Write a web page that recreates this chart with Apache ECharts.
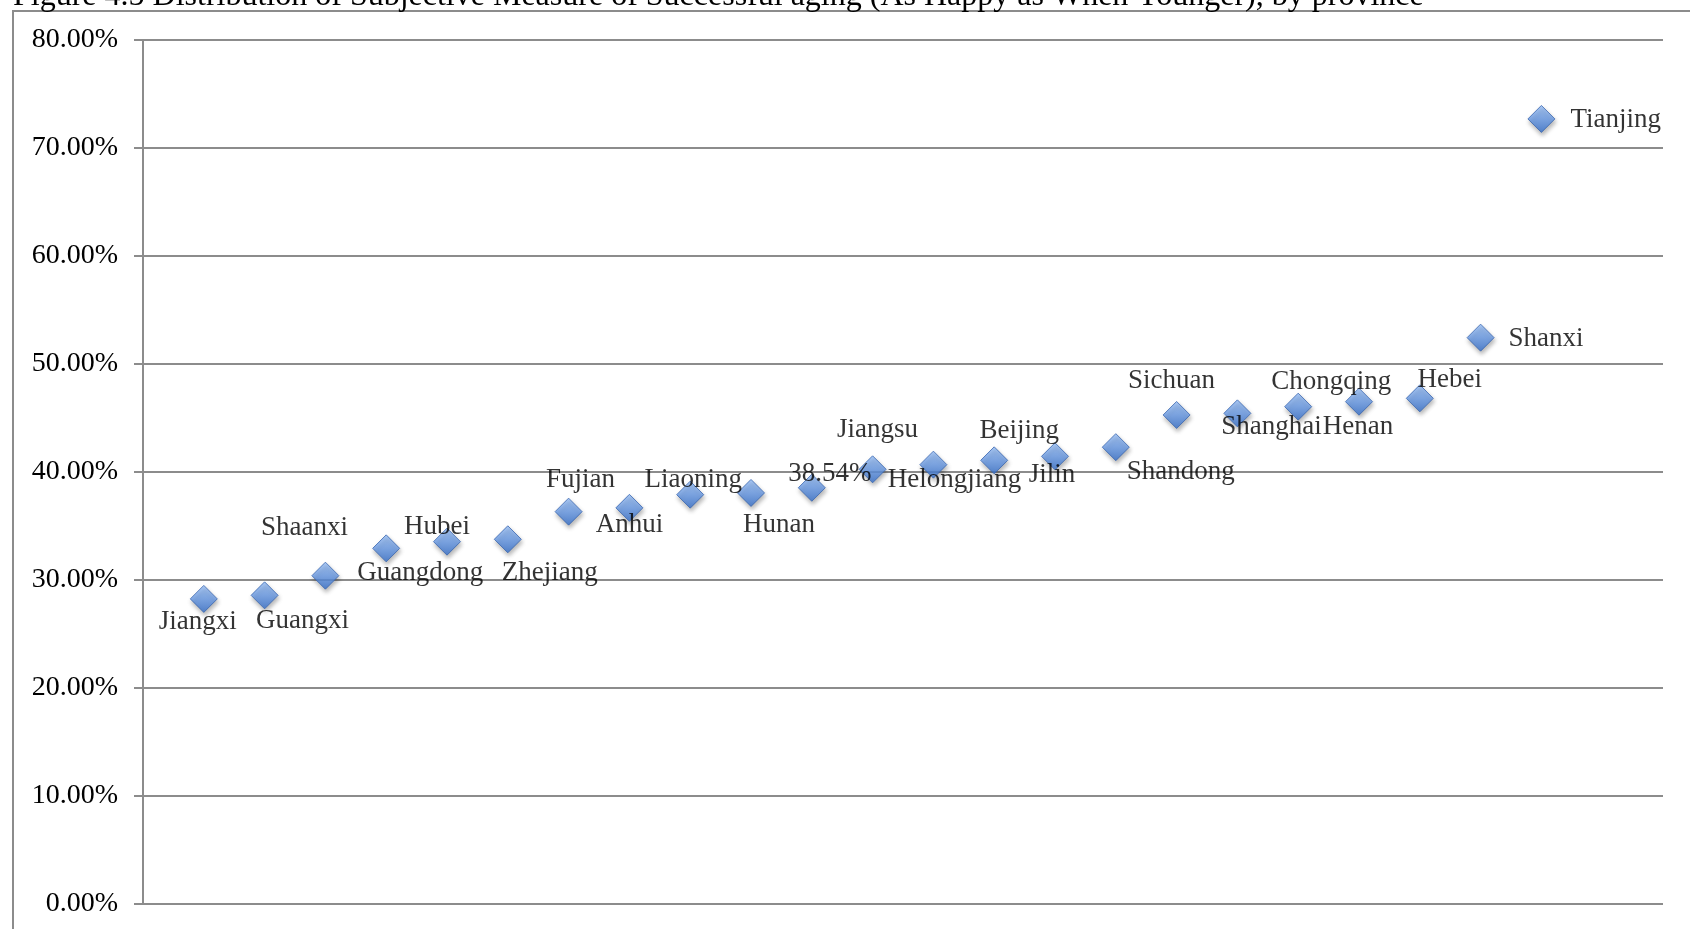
<!DOCTYPE html>
<html>
<head>
<meta charset="utf-8">
<script src="https://cdn.jsdelivr.net/npm/echarts@6/dist/echarts.min.js"></script>
<style>
  html, body { margin: 0; padding: 0; background: #ffffff; }
  #chart { width: 1690px; height: 929px; }
</style>
</head>
<body>
<div id="chart"></div>
<script>
// Share answering "as happy as when younger", sorted from lowest to highest province
const provinces = [
  'Jiangxi', 'Guangxi', 'Shaanxi', 'Guangdong', 'Hubei', 'Zhejiang', 'Fujian', 'Anhui',
  'Liaoning', 'Hunan', null, 'Jiangsu', 'Helongjiang', 'Beijing', 'Jilin', 'Shandong',
  'Sichuan', 'Shanghai', 'Chongqing', 'Henan', 'Hebei', 'Shanxi', 'Tianjing'
];
const shares = [
  28.25, 28.58, 30.40, 32.93, 33.55, 33.77, 36.33, 36.68,
  37.90, 38.06, 38.54, 40.25, 40.68, 41.08, 41.45, 42.30,
  45.28, 45.43, 46.05, 46.51, 46.82, 52.44, 72.69
];
const titleText = 'Figure 4.5 Distribution of Subjective Measure of Successful aging (As Happy as When Younger), by province';

// Where each data label sits relative to its marker: [dx, dy]; 'R' = placed to the right
const labelPlacement = [
  [-6, 23], [38, 26], [-21, -48], [34, 25], [-10, -15], [42, 34], [12, -32], [0, 17],
  [3, -15], [28, 32], [18, -14], [5, -39], [21, 15], [25, -29], [-3, 19], [65, 25],
  [-5, -34], [34, 14], [33, -25], [-1, 25], [30, -18], ['R', 28], ['R', 29]
];

const serif = '"Liberation Serif", "Times New Roman", serif';
const gridGray = '#8c8c8c';

const points = shares.map((v, i) => {
  const p = labelPlacement[i];
  const label = p[0] === 'R'
    ? { position: 'inside', align: 'left', verticalAlign: 'middle', offset: [p[1], 1] }
    : { position: 'inside', align: 'center', verticalAlign: 'middle', offset: [p[0], p[1]] };
  return { value: [i + 1, v], name: provinces[i] || '', label };
});

const chart = echarts.init(document.getElementById('chart'), null, { renderer: 'canvas' });
chart.setOption({
  animation: false,
  backgroundColor: '#ffffff',
  grid: { left: 143, right: 27, top: 40, bottom: 25, containLabel: false },
  graphic: [
    {
      type: 'rect',
      shape: { x: 13, y: 11, width: 1700, height: 940 },
      style: { fill: 'none', stroke: gridGray, lineWidth: 2 },
      z: -1
    },
    {
      type: 'text',
      x: 13, y: -3,
      style: {
        text: titleText,
        font: '32px ' + serif,
        fill: '#000000',
        align: 'left',
        verticalAlign: 'middle'
      }
    }
  ],
  xAxis: {
    type: 'value',
    min: 0,
    max: 25,
    show: false
  },
  yAxis: {
    type: 'value',
    min: 0,
    max: 80,
    interval: 10,
    axisLine: { show: true, lineStyle: { color: gridGray, width: 2 } },
    axisTick: { show: true, inside: false, length: 9, lineStyle: { color: gridGray, width: 2 } },
    splitLine: { show: true, lineStyle: { color: gridGray, width: 2 } },
    axisLabel: {
      margin: 25,
      color: '#000000',
      fontFamily: serif,
      fontSize: 28,
      padding: [4, 0, 0, 0],
      formatter: v => v.toFixed(2) + '%'
    }
  },
  series: [{
    type: 'scatter',
    symbol: 'diamond',
    symbolSize: [27, 27],
    data: points,
    itemStyle: {
      color: new echarts.graphic.LinearGradient(0, 0, 0, 1, [
        { offset: 0, color: '#98bff6' },
        { offset: 0.5, color: '#6a9ce8' },
        { offset: 1, color: '#3570cc' }
      ]),
      borderColor: '#3a67b0',
      borderWidth: 1,
      shadowColor: 'rgba(0,0,0,0.35)',
      shadowBlur: 4,
      shadowOffsetX: 1,
      shadowOffsetY: 3
    },
    label: {
      show: true,
      color: '#000000',
      fontFamily: serif,
      fontSize: 27,
      formatter: p => p.name ? p.name : p.value[1].toFixed(2) + '%'
    },
    emphasis: { disabled: true }
  }]
});
</script>
</body>
</html>
